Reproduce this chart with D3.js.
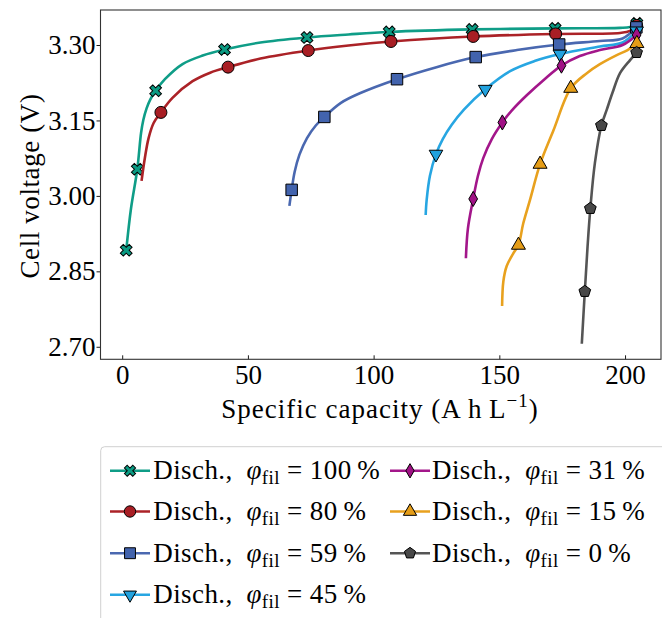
<!DOCTYPE html>
<html>
<head>
<meta charset="utf-8">
<script src="https://cdn.jsdelivr.net/npm/d3@7.9.0/dist/d3.min.js"></script>
<style>
  body { margin: 0; background: #fff; }
  svg text { font-family: "Liberation Serif", "Times New Roman", serif; fill: #000; }
</style>
</head>
<body>
<svg id="chart" width="662" height="618"></svg>
<script>
// discharge curves, [capacity (A h/L), voltage (V)]
const curve100 = [[1.6,2.892],[3.5,2.975],[6.0,3.053],[7.5,3.125],[8.4,3.151],[9.7,3.174],[11.2,3.192],[13.3,3.209],[17,3.232],[24,3.262],[32,3.279],[40.7,3.291],[55,3.305],[73.5,3.315],[90,3.321],[106.2,3.326],[139.2,3.331],[172.2,3.333],[198,3.334],[202,3.336],[204.7,3.343]];
const curve80 = [[7.7,3.030],[9,3.075],[10.5,3.115],[12.5,3.145],[15.4,3.166],[20,3.195],[28,3.228],[35,3.245],[42.1,3.256],[55,3.273],[74.0,3.289],[90,3.299],[106.9,3.307],[139.6,3.317],[172.4,3.322],[198,3.324],[202,3.328],[204.6,3.339]];
const curve59 = [[66.5,2.980],[67.4,3.012],[68.6,3.048],[70.5,3.082],[73.5,3.115],[77,3.140],[80.4,3.157],[87,3.185],[94.5,3.204],[109.3,3.232],[125,3.256],[140.6,3.276],[157,3.290],[173.8,3.301],[190,3.308],[199,3.313],[204.5,3.335]];
const curve45 = [[120.7,2.962],[121.1,2.992],[122.4,3.040],[124.8,3.083],[127.5,3.113],[131,3.141],[136,3.172],[144.4,3.212],[154.3,3.248],[164,3.268],[174.1,3.282],[190,3.297],[199,3.305],[204.6,3.328]];
const curve31 = [[136.7,2.876],[137.5,2.935],[139.6,2.994],[141.5,3.040],[143.6,3.075],[147,3.113],[151.2,3.146],[155,3.170],[160.9,3.200],[168,3.232],[174.7,3.259],[182,3.278],[190,3.290],[199,3.300],[204.6,3.320]];
const curve15 = [[151.1,2.781],[151.6,2.830],[152.9,2.860],[155.6,2.886],[157.6,2.902],[159.5,2.945],[162.2,2.992],[166.2,3.063],[171.5,3.130],[178.4,3.214],[184.8,3.244],[190,3.262],[196.7,3.280],[201,3.290],[204.7,3.303]];
const curve0 = [[182.8,2.706],[184.0,2.810],[185.1,2.900],[186.2,2.975],[188,3.065],[190.6,3.140],[192.7,3.171],[195,3.205],[198,3.244],[202,3.270],[204.6,3.285]];

// marker positions
const marks100 = [[1.6,2.892],[6.0,3.053],[13.3,3.209],[40.7,3.291],[73.5,3.315],[106.2,3.326],[139.2,3.331],[172.2,3.333],[204.7,3.343]];
const marks80 = [[15.4,3.166],[42.1,3.256],[74.0,3.289],[106.9,3.307],[139.6,3.317],[172.4,3.322],[204.6,3.339]];
const marks59 = [[67.4,3.012],[80.4,3.157],[109.3,3.232],[140.6,3.276],[173.8,3.301],[204.5,3.335]];
const marks45 = [[124.8,3.083],[144.4,3.212],[174.1,3.282],[204.6,3.328]];
const marks31 = [[139.6,2.994],[151.2,3.146],[174.7,3.259],[204.6,3.320]];
const marks15 = [[157.6,2.902],[166.2,3.063],[178.4,3.214],[204.7,3.303]];
const marks0 = [[184.0,2.810],[186.2,2.975],[190.6,3.140],[204.6,3.285]];

const fillLabels = ['100', '80', '59', '45', '31', '15', '0'];
const xTicks = [0, 50, 100, 150, 200];
const yTicks = [2.70, 2.85, 3.00, 3.15, 3.30];

const svg = d3.select('#chart');

const x = d3.scaleLinear().domain([-8.63, 214.3]).range([100.5, 661]);
const y = d3.scaleLinear().domain([2.6751, 3.3696]).range([359.3, 10]);

// pentagon marker
const symbolPentagon = {
  draw(ctx, size) {
    const r = Math.sqrt(size / 2.3776);
    for (let i = 0; i < 5; i++) {
      const a = -Math.PI / 2 + i * 2 * Math.PI / 5;
      if (i) ctx.lineTo(r * Math.cos(a), r * Math.sin(a));
      else ctx.moveTo(r * Math.cos(a), r * Math.sin(a));
    }
    ctx.closePath();
  }
};

const series = [
  { curve: curve100, marks: marks100, line: '#0f9d87', fill: '#0a9a82', sym: d3.symbolCross, rot: 45, size: 86 },
  { curve: curve80, marks: marks80, line: '#ab2227', fill: '#a81e24', sym: d3.symbolCircle, rot: 0, size: 113 },
  { curve: curve59, marks: marks59, line: '#4a68b0', fill: '#4263ad', sym: d3.symbolSquare, rot: 0, size: 132 },
  { curve: curve45, marks: marks45, line: '#27a6e2', fill: '#22a2de', sym: d3.symbolTriangle, rot: 180, size: 80 },
  { curve: curve31, marks: marks31, line: '#a3168a', fill: '#a01185', sym: d3.symbolDiamond, rot: 0, size: 66 },
  { curve: curve15, marks: marks15, line: '#e8a11e', fill: '#e59d18', sym: d3.symbolTriangle, rot: 0, size: 85 },
  { curve: curve0, marks: marks0, line: '#555555', fill: '#484848', sym: symbolPentagon, rot: 0, size: 90 }
];

// axes
const yAxis = svg.append('g')
  .attr('transform', 'translate(100.5,0)')
  .call(d3.axisLeft(y).tickValues(yTicks).tickFormat(d3.format('.2f')).tickSize(4).tickPadding(1));
const xAxis = svg.append('g')
  .attr('transform', 'translate(0,359.3)')
  .call(d3.axisBottom(x).tickValues(xTicks).tickFormat(d3.format('d')).tickSize(-4).tickPadding(6));
[yAxis, xAxis].forEach(g => {
  g.select('.domain').remove();
  g.selectAll('line').attr('stroke', '#000').attr('stroke-width', 0.9);
  g.selectAll('text').attr('font-size', 27).attr('font-family', '"Liberation Serif", serif');
});

svg.append('rect')
  .attr('x', 100.5).attr('y', 10)
  .attr('width', 560.5).attr('height', 349.3)
  .attr('fill', 'none').attr('stroke', '#333').attr('stroke-width', 1.1);

const line = d3.line().x(d => x(d[0])).y(d => y(d[1])).curve(d3.curveCatmullRom.alpha(0.5));

const plot = svg.append('g');
series.forEach(s => {
  plot.append('path')
    .attr('d', line(s.curve))
    .attr('fill', 'none')
    .attr('stroke', s.line)
    .attr('stroke-width', 2.6);
  plot.selectAll(null)
    .data(s.marks)
    .join('path')
    .attr('d', d3.symbol(s.sym, s.size))
    .attr('transform', d => `translate(${x(d[0])},${y(d[1])}) rotate(${s.rot})`)
    .attr('fill', s.fill)
    .attr('stroke', '#000')
    .attr('stroke-width', 1);
});

// axis titles
svg.append('text')
  .attr('transform', 'translate(39,186) rotate(-90)')
  .attr('text-anchor', 'middle')
  .attr('font-size', 27)
  .attr('letter-spacing', 0.6)
  .text('Cell voltage (V)');

const xt = svg.append('text')
  .attr('x', 380).attr('y', 418.3)
  .attr('text-anchor', 'middle')
  .attr('font-size', 27)
  .attr('letter-spacing', 1);
xt.append('tspan').text('Specific capacity (A\u2009h\u2009L');
xt.append('tspan').attr('font-size', 19).attr('dy', -11).text('\u22121');
xt.append('tspan').attr('dy', 11).text(')');

// legend
svg.append('rect')
  .attr('x', 100.7).attr('y', 446.7)
  .attr('width', 580).attr('height', 200)
  .attr('rx', 4)
  .attr('fill', '#fff')
  .attr('stroke', '#d0d0d0')
  .attr('stroke-width', 1);

const rowBase = [479.3, 520, 561.7, 603.3];
const colHandle = [110, 390];
const colText = [153.3, 432];

series.forEach((s, i) => {
  const col = i < 4 ? 0 : 1;
  const row = i < 4 ? i : i - 4;
  const by = rowBase[row];
  const hy = by - 8.5;
  const g = svg.append('g');
  g.append('line')
    .attr('x1', colHandle[col]).attr('x2', colHandle[col] + 40)
    .attr('y1', hy).attr('y2', hy)
    .attr('stroke', s.line).attr('stroke-width', 2.6);
  g.append('path')
    .attr('d', d3.symbol(s.sym, s.size * 0.9))
    .attr('transform', `translate(${colHandle[col] + 20},${hy}) rotate(${s.rot})`)
    .attr('fill', s.fill).attr('stroke', '#000').attr('stroke-width', 1);
  const t = g.append('text')
    .attr('x', colText[col]).attr('y', by)
    .attr('font-size', 27)
    .attr('letter-spacing', 0.4);
  t.append('tspan').text('Disch.,\u2002');
  t.append('tspan').attr('font-style', 'italic').text('\u03c6');
  t.append('tspan').attr('font-size', 19).attr('dy', 5).text('fil');
  t.append('tspan').attr('dy', -5).text(' = ' + fillLabels[i] + '\u2009%');
});
</script>
</body>
</html>
